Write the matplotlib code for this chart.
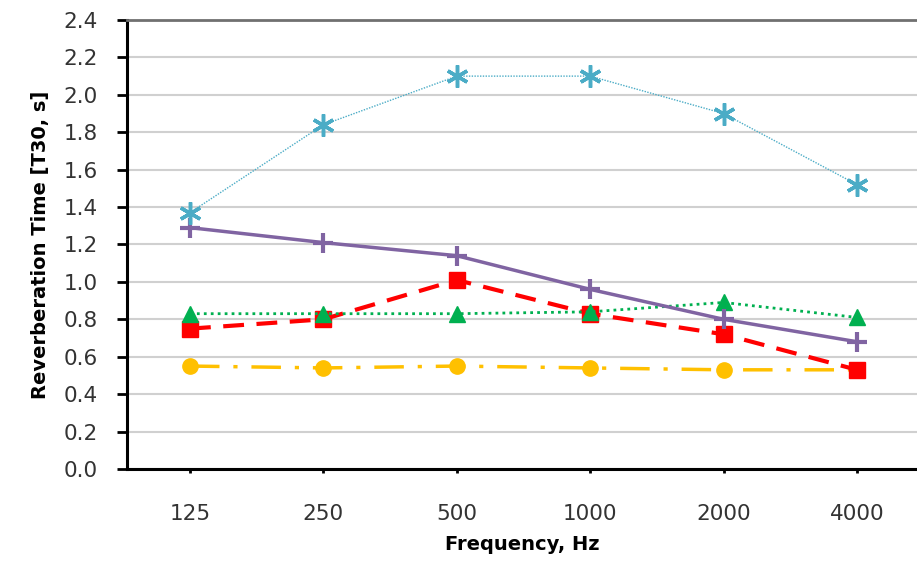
import numpy as np
import matplotlib
matplotlib.use("Agg")
import matplotlib.pyplot as plt

# frequency bands and reverberation times
freqs = ["125", "250", "500", "1000", "2000", "4000"]
cyan_vals = [1.37, 1.84, 2.10, 2.10, 1.90, 1.52]
purple_vals = [1.29, 1.21, 1.14, 0.96, 0.80, 0.68]
red_vals = [0.75, 0.80, 1.01, 0.83, 0.72, 0.53]
green_vals = [0.83, 0.83, 0.83, 0.84, 0.89, 0.81]
yellow_vals = [0.55, 0.54, 0.55, 0.54, 0.53, 0.53]

plt.rcParams['font.family'] = ['DejaVu Sans']

fig = plt.figure(figsize=(9.17, 5.65), dpi=100)
ax = fig.add_axes([0.1385, 0.170, 0.8615, 0.7946])
x = np.arange(len(freqs))

ax.plot(x, yellow_vals, color='#FFC000', lw=2.5, dashes=(8.5, 4, 1.2, 4),
        marker='o', ms=11, zorder=3)
ax.plot(x, green_vals, color='#00B050', lw=2, ls=(0, (1, 1.5)),
        marker='^', ms=12, zorder=4)
ax.plot(x, red_vals, color='#FF0000', lw=3, dashes=(5, 3),
        marker='s', ms=11, zorder=3)
ax.plot(x, purple_vals, color='#8064A2', lw=2.5,
        marker='+', ms=15, mew=3, zorder=5)
ax.plot(x, cyan_vals, color='#4BACC6', lw=1, ls=(0, (1, 1)),
        marker=(6, 2, 0), ms=16, mew=2.5, zorder=5)

ax.set_xlim(-0.472, 5.45)
ax.set_ylim(0, 2.4)
yt = np.arange(0, 2.41, 0.2)
ax.set_yticks(yt)
ax.set_yticklabels([f"{v:.1f}" for v in yt])
ax.set_xticks(x)
ax.set_xticklabels(freqs)

ax.yaxis.grid(True, color='#d0d0d0', lw=1.5)
ax.set_axisbelow(True)

ax.spines['right'].set_visible(False)
ax.spines['top'].set_color('#707070')
ax.spines['top'].set_linewidth(2)
ax.spines['left'].set_linewidth(2.2)
ax.spines['bottom'].set_linewidth(2.2)

ax.tick_params(axis='y', length=7, width=2, labelsize=15.5,
               labelcolor='#333333', pad=14)
ax.tick_params(axis='x', length=3, width=2, labelsize=15.5,
               labelcolor='#333333', pad=22)

ax.set_xlabel("Frequency, Hz", fontsize=14, fontweight='bold', labelpad=8)
ax.set_ylabel("Reverberation Time [T30, s]", fontsize=14, fontweight='bold',
              labelpad=10)

fig.savefig("out.png", dpi=100)
